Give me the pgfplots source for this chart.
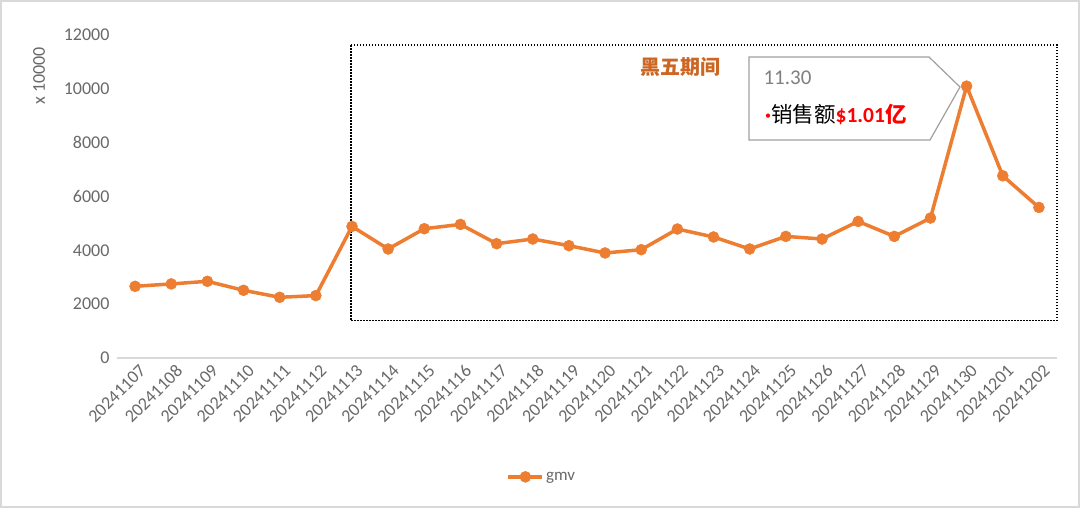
\documentclass[border=0pt]{standalone}
\usepackage{pgfplots}
\pgfplotsset{compat=1.18}
\usepackage{pgfplotstable}
\usepackage{fontspec}
\setmainfont{Carlito}
\newfontfamily\cjk{Noto Sans CJK SC}

\definecolor{gmvorange}{RGB}{237,125,49}
\definecolor{tickgray}{RGB}{105,105,105}
\definecolor{axisgray}{RGB}{217,217,217}
\definecolor{titleorange}{RGB}{204,102,34}
\definecolor{boxgray}{RGB}{160,160,160}

% daily gmv, in units of 10000
\pgfplotstableread{
idx gmv
0  2663
1  2752
2  2849
3  2515
4  2255
5  2318
6  4889
7  4050
8  4803
9  4963
10 4247
11 4421
12 4173
13 3902
14 4024
15 4792
16 4496
17 4050
18 4518
19 4421
20 5074
21 4518
22 5200
23 10100
24 6769
25 5593
}\gmvtable

\begin{document}
\begin{tikzpicture}
\useasboundingbox (0,0) rectangle (1080bp,508bp);
\draw[axisgray, line width=2bp, fill=white] (1bp,1bp) rectangle (1079bp,507bp);

% callout
\draw[boxgray, line width=1.2bp, fill=white]
  (749bp,451bp) -- (929bp,451bp) -- (960bp,421bp) -- (930bp,368bp) -- (749bp,368bp) -- cycle;
\node[anchor=west, text=tickgray!85, font=\fontsize{21bp}{23bp}\selectfont] at (760bp,430bp) {11.30};
\node[anchor=west, font=\fontsize{21.5bp}{23bp}\selectfont, inner sep=0pt] at (765bp,393bp)
  {\textcolor{red}{\fontsize{12bp}{12bp}\selectfont\raisebox{3bp}{•}}{\cjk 销售额}\textcolor{red}{\bfseries\$1.01{\cjk 亿}}};

\node[titleorange, font=\cjk\bfseries\fontsize{20bp}{22bp}\selectfont] at (680bp,441bp) {黑五期间};
\node[rotate=90, text=tickgray, font=\fontsize{18bp}{20bp}\selectfont] at (39bp,432bp) {x 10000};

\begin{axis}[
  at={(117bp,150bp)}, anchor=south west,
  scale only axis, width=940bp, height=323bp,
  xmin=-0.5, xmax=25.5, ymin=0, ymax=12000,
  xtick={0,...,25},
  xticklabels={20241107,20241108,20241109,20241110,20241111,20241112,20241113,
    20241114,20241115,20241116,20241117,20241118,20241119,20241120,20241121,
    20241122,20241123,20241124,20241125,20241126,20241127,20241128,20241129,
    20241130,20241201,20241202},
  ytick={0,2000,...,12000},
  axis x line*=bottom, axis y line*=left,
  x axis line style={axisgray, line width=1.5bp, -},
  y axis line style={draw=none},
  major tick length=0pt,
  tick label style={font=\fontsize{18bp}{20bp}\selectfont, text=tickgray},
  xticklabel style={rotate=45, anchor=north east, xshift=2bp, yshift=-3bp},
  yticklabel style={xshift=-4bp},
  /pgf/number format/assume math mode=true,
  /pgf/number format/1000 sep={},
  scaled y ticks=false,
  clip=false,
  legend style={at={(0.452,-0.368)}, anchor=center, draw=none, fill=none,
    font=\fontsize{17bp}{19bp}\selectfont, text=tickgray},
  legend image code/.code={\draw[mark repeat=2, mark phase=2, #1]
    plot coordinates {(0bp,0bp) (17bp,0bp) (34bp,0bp)};},
]
\draw[black, line width=1.5bp, dash pattern=on 1.5bp off 1.5bp]
  (axis cs:5.97,11628) rectangle (axis cs:25.5,1391);
\addplot[gmvorange, line width=3.5bp, mark=*, mark size=5.5bp,
  mark options={solid, draw=gmvorange, fill=gmvorange, line width=0.5bp}]
  table[x=idx, y=gmv] {\gmvtable};
\legend{gmv}
\end{axis}
\end{tikzpicture}
\end{document}
